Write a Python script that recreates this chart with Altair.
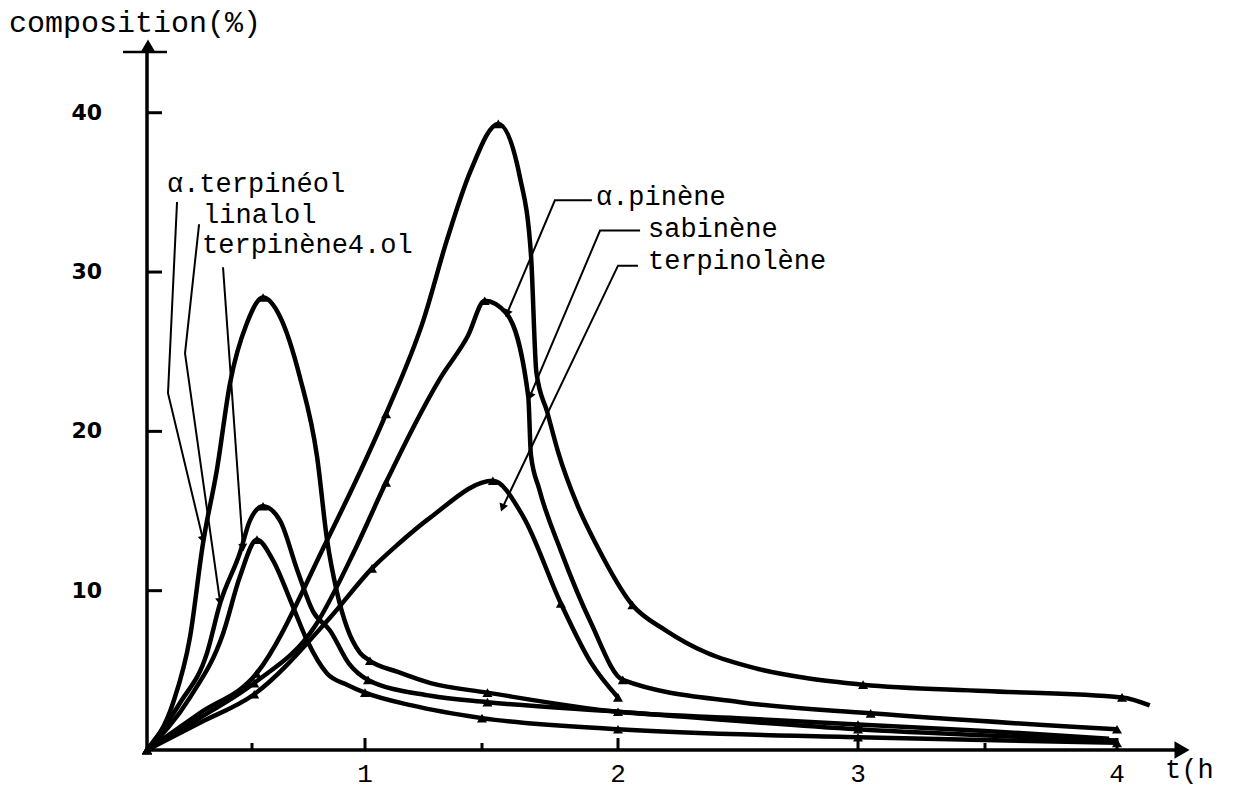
import altair as alt
import pandas as pd

# ---------------- data (t in hours, composition in %) -------------
terpineol_t = [0, 0.124, 0.205, 0.267, 0.333, 0.395, 0.476, 0.549, 0.624, 0.712, 0.788, 0.832, 0.876, 0.92, 0.978, 1.021, 1.14, 1.28, 1.52, 2.0, 2.5, 3.0, 3.5, 3.97]
terpineol_v = [0, 2.95, 7.1, 13.0, 17.6, 23.0, 26.8, 28.4, 27.2, 23.4, 18.4, 13.2, 9.9, 7.7, 6.1, 5.6, 4.9, 4.2, 3.6, 2.4, 2.0, 1.6, 1.2, 0.7]

linalol_t = [0, 0.157, 0.286, 0.348, 0.443, 0.49, 0.549, 0.624, 0.70, 0.77, 0.845, 0.93, 1.013, 1.28, 1.52, 2.0, 3.0, 4.0]
linalol_v = [0, 2.95, 6.1, 9.2, 12.4, 14.4, 15.3, 14.4, 11.3, 8.7, 7.5, 5.4, 4.4, 3.4, 3.0, 2.4, 1.3, 0.6]

terpinene4ol_t = [0, 0.205, 0.362, 0.443, 0.522, 0.593, 0.681, 0.743, 0.832, 0.92, 1.0, 1.2, 1.5, 2.0, 3.0, 4.0]
terpinene4ol_v = [0, 3.3, 7.3, 10.9, 13.2, 11.9, 9.0, 6.9, 4.8, 4.1, 3.6, 2.8, 2.0, 1.3, 0.8, 0.45]

sabinene_t = [0, 0.25, 0.52, 0.83, 1.09, 1.25, 1.35, 1.45, 1.56, 1.64, 1.68, 1.70, 1.74, 1.78, 1.85, 1.92, 2.06, 2.20, 2.37, 2.58, 2.79, 3.02, 3.5, 4.02, 4.13]
sabinene_v = [0, 2.3, 4.8, 13.1, 21.1, 27.0, 32.0, 36.3, 39.3, 35.9, 31.1, 23.7, 21.2, 18.7, 15.4, 12.9, 9.1, 7.5, 6.1, 5.1, 4.5, 4.1, 3.7, 3.3, 2.8]

pinene_t = [0, 0.25, 0.51, 0.78, 0.96, 1.09, 1.32, 1.44, 1.51, 1.59, 1.67, 1.68, 1.71, 1.79, 1.90, 2.02, 2.51, 3.05, 4.0]
pinene_v = [0, 2.0, 4.2, 7.8, 12.7, 16.8, 23.3, 26.0, 28.2, 27.4, 22.2, 18.5, 16.4, 12.5, 8.0, 4.4, 3.0, 2.3, 1.3]

terpinolene_t = [0, 0.25, 0.51, 0.845, 1.03, 1.14, 1.28, 1.54, 1.65, 1.79, 1.90, 2.0]
terpinolene_v = [0, 1.7, 3.5, 8.3, 11.4, 12.9, 14.6, 16.9, 14.7, 9.2, 5.5, 3.3]

# measured points (markers)
terpineol_mt = [0, 0.549, 1.021, 1.52, 2.0, 3.0]
terpineol_mv = [0, 28.4, 5.6, 3.6, 2.4, 1.6]
linalol_mt = [0, 0.549, 1.013, 1.52, 3.0]
linalol_mv = [0, 15.3, 4.4, 3.0, 1.3]
terpinene4ol_mt = [0, 0.522, 1.0, 1.5, 2.0, 3.0, 4.0]
terpinene4ol_mv = [0, 13.2, 3.6, 2.0, 1.3, 0.8, 0.45]
sabinene_mt = [0, 0.52, 1.09, 1.56, 2.06, 3.02, 4.02]
sabinene_mv = [0, 4.8, 21.1, 39.3, 9.1, 4.1, 3.3]
pinene_mt = [0, 0.51, 1.09, 1.51, 2.02, 3.05, 4.0]
pinene_mv = [0, 4.2, 16.8, 28.2, 4.4, 2.3, 1.3]
terpinolene_mt = [0, 0.51, 1.03, 1.54, 1.79, 2.0]
terpinolene_mv = [0, 3.5, 11.4, 16.9, 9.2, 3.3]

# labels and their leader lines (data coordinates)
label_text = ["α.terpinéol", "linalol", "terpinène4.ol", "α.pinène", "sabinène", "terpinolène"]
label_t = [0.095, 0.267, 0.262, 1.919, 2.125, 2.125]
label_v = [35.0, 33.1, 31.2, 34.2, 32.2, 30.2]
leader_t = [[0.143, 0.10, 0.267], [0.248, 0.181, 0.348], [0.362, 0.457],
            [1.904, 1.768, 1.592], [2.092, 1.934, 1.676], [2.083, 2.0, 1.575]]
leader_v = [[34.4, 22.4, 13.2], [33.0, 24.9, 9.3], [30.3, 12.7],
            [34.5, 34.5, 27.4], [32.6, 32.6, 22.2], [30.4, 30.4, 15.2]]
arrow_angle = [166, 172, 176, 203, 203, 201]

x_major = [1, 2, 3, 4]
x_major_labels = ["1", "2", "3", "4"]
x_minor = [0.5, 1.5, 3.5]
y_ticks = [10, 20, 30, 40]
y_tick_labels = ["10", "20", "30", "40"]

# hand-drawn time axis has uneven spacing -> piecewise linear scale
X_DOMAIN = [0, 0.5, 1, 1.5, 2, 3, 3.5, 4, 4.25]
X_RANGE = [0, 105, 218, 335, 471, 711, 838, 970, 1033]
W, H = 1033, 701

# ---------------- tables ----------------
series = [
    ("α.terpinéol", terpineol_t, terpineol_v, terpineol_mt, terpineol_mv),
    ("linalol", linalol_t, linalol_v, linalol_mt, linalol_mv),
    ("terpinène4.ol", terpinene4ol_t, terpinene4ol_v, terpinene4ol_mt, terpinene4ol_mv),
    ("sabinène", sabinene_t, sabinene_v, sabinene_mt, sabinene_mv),
    ("α.pinène", pinene_t, pinene_v, pinene_mt, pinene_mv),
    ("terpinolène", terpinolene_t, terpinolene_v, terpinolene_mt, terpinolene_mv),
]
rows, mrows = [], []
for name, ts, vs, mts, mvs in series:
    for i, (t, v) in enumerate(zip(ts, vs)):
        rows.append({"s": name, "i": i, "t": t, "v": v})
    for t, v in zip(mts, mvs):
        mrows.append({"s": name, "t": t, "v": v})
curves = pd.DataFrame(rows)
markers = pd.DataFrame(mrows)

lrows, arows = [], []
for k, (ts, vs) in enumerate(zip(leader_t, leader_v)):
    for i, (t, v) in enumerate(zip(ts, vs)):
        lrows.append({"k": k, "i": i, "t": t, "v": v})
    arows.append({"t": ts[-1], "v": vs[-1], "ang": arrow_angle[k]})
leaders = pd.DataFrame(lrows)
arrows = pd.DataFrame(arows)
labels = pd.DataFrame({"txt": label_text, "t": label_t, "v": label_v})

xs = alt.Scale(domain=X_DOMAIN, range=X_RANGE, nice=False, zero=False)
ys = alt.Scale(domain=[0, 44], nice=False, zero=True)
X = lambda: alt.X("t:Q", scale=xs, axis=None)
Y = lambda: alt.Y("v:Q", scale=ys, axis=None)
one = pd.DataFrame({"a": [0]})
MONO = "Liberation Mono"

# axes drawn by hand (the original has inward ticks and arrow heads)
x_dom = alt.Chart(one).mark_rule(color="black", strokeWidth=3.5).encode(
    x=alt.value(0), x2=alt.value(W), y=alt.value(H))
y_dom = alt.Chart(one).mark_rule(color="black", strokeWidth=3.5).encode(
    x=alt.value(0), y=alt.value(0), y2=alt.value(H))
xt_major = alt.Chart(pd.DataFrame({"t": x_major})).mark_rule(color="black", strokeWidth=3).encode(
    x=X(), y=alt.value(H), y2=alt.value(H - 12))
xt_minor = alt.Chart(pd.DataFrame({"t": x_minor})).mark_rule(color="black", strokeWidth=3).encode(
    x=X(), y=alt.value(H), y2=alt.value(H - 7))
yt = alt.Chart(pd.DataFrame({"v": y_ticks})).mark_rule(color="black", strokeWidth=3).encode(
    y=Y(), x=alt.value(0), x2=alt.value(15))
xlab = alt.Chart(pd.DataFrame({"t": x_major, "lab": x_major_labels})).mark_text(
    font=MONO, fontSize=26, color="black", baseline="top", align="center").encode(
    x=X(), y=alt.value(H + 11), text="lab:N")
ylab = alt.Chart(pd.DataFrame({"v": y_ticks, "lab": y_tick_labels})).mark_text(
    font="DejaVu Sans", fontWeight="bold", fontSize=22, color="black",
    baseline="middle", align="right").encode(
    y=Y(), x=alt.value(-45), text="lab:N")

top_arrow = alt.Chart(one).mark_point(shape="triangle-up", filled=True, color="black",
                                      size=230, opacity=1).encode(x=alt.value(1), y=alt.value(-3))
top_bar = alt.Chart(one).mark_rule(color="black", strokeWidth=2.5).encode(
    x=alt.value(-24), x2=alt.value(20), y=alt.value(3))
right_arrow = alt.Chart(one).mark_point(shape="triangle-right", filled=True, color="black",
                                        size=300, opacity=1).encode(x=alt.value(W + 2), y=alt.value(H))

lines = alt.Chart(curves).mark_line(color="black", strokeWidth=4.5, interpolate="monotone").encode(
    x=X(), y=Y(), detail="s:N", order="i:Q")
pts = alt.Chart(markers).mark_point(shape="triangle-up", filled=True, color="black",
                                    size=100, opacity=1).encode(x=X(), y=Y())
lead = alt.Chart(leaders).mark_line(color="black", strokeWidth=2).encode(
    x=X(), y=Y(), detail="k:N", order="i:Q")
heads = alt.Chart(arrows).mark_point(shape="triangle-up", filled=True, color="black",
                                     size=80, opacity=1).encode(
    x=X(), y=Y(), angle=alt.Angle("ang:Q", scale=None))
texts = alt.Chart(labels).mark_text(align="left", baseline="alphabetic", font=MONO,
                                    fontSize=27, color="black").encode(x=X(), y=Y(), text="txt:N")

ytitle = alt.Chart(one).mark_text(align="left", baseline="alphabetic", font=MONO, fontSize=30,
                                  color="black").encode(
    x=alt.value(-138), y=alt.value(-17), text=alt.value("composition(%)"))
xtitle = alt.Chart(one).mark_text(align="left", baseline="middle", font=MONO, fontSize=27,
                                  color="black").encode(
    x=alt.value(W - 15), y=alt.value(H + 20), text=alt.value("t(h"))

chart = alt.layer(
    x_dom, y_dom, xt_major, xt_minor, yt, xlab, ylab, top_bar, top_arrow, right_arrow,
    lines, pts, lead, heads, texts, ytitle, xtitle
).properties(
    width=W, height=H,
    background="white",
    autosize=alt.AutoSizeParams(type="none"),
    padding={"left": 147, "top": 49, "right": 55, "bottom": 55},
).configure_view(stroke="transparent", strokeWidth=0)

chart.save("out.html", embed_options={"renderer": "svg", "actions": False})
